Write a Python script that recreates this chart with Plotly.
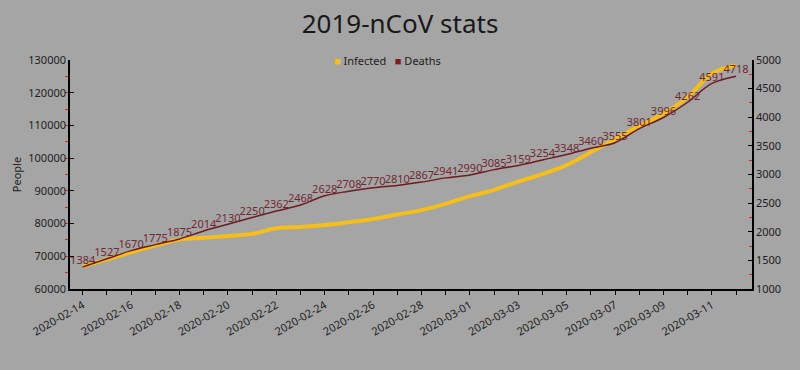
import plotly.graph_objects as go

dates = [
    "2020-02-14", "2020-02-15", "2020-02-16", "2020-02-17", "2020-02-18", "2020-02-19",
    "2020-02-20", "2020-02-21", "2020-02-22", "2020-02-23", "2020-02-24", "2020-02-25",
    "2020-02-26", "2020-02-27", "2020-02-28", "2020-02-29", "2020-03-01", "2020-03-02",
    "2020-03-03", "2020-03-04", "2020-03-05", "2020-03-06", "2020-03-07", "2020-03-08",
    "2020-03-09", "2020-03-10", "2020-03-11", "2020-03-12",
]
infected = [
    66887, 69032, 71226, 73260, 75138, 75641, 76199, 76843, 78599, 78985, 79570, 80415,
    81397, 82756, 84124, 86013, 88371, 90309, 92844, 95124, 97886, 101801, 105847, 109821,
    113590, 118620, 125875, 128352,
]
deaths = [
    1384, 1527, 1670, 1775, 1875, 2014, 2130, 2250, 2362, 2468, 2628, 2708,
    2770, 2810, 2867, 2941, 2990, 3085, 3159, 3254, 3348, 3460, 3555, 3801,
    3996, 4262, 4591, 4718,
]
left_ticks = [60000, 70000, 80000, 90000, 100000, 110000, 120000, 130000]
right_ticks = [1000, 1500, 2000, 2500, 3000, 3500, 4000, 4500, 5000]
series_names = ["Infected", "Deaths"]

BG = "rgb(165,165,165)"
YEL = "rgb(245,190,25)"
RED = "rgb(110,28,32)"
TXT = "rgb(30,30,30)"
FONT = "Noto Sans"

fig = go.Figure()
fig.add_trace(go.Scatter(
    x=dates, y=infected, name=series_names[0], mode="lines",
    line=dict(color=YEL, width=4, shape="spline"), showlegend=False, yaxis="y"))
fig.add_trace(go.Scatter(
    x=dates, y=deaths, name=series_names[1], mode="lines+text", text=[str(v) for v in deaths],
    textposition="top center", textfont=dict(color="rgb(112,40,52)", size=11, family=FONT),
    line=dict(color=RED, width=1.5, shape="spline"), showlegend=False, yaxis="y2"))

# compact legend (square swatch + label)
legend_text = (
    f"<span style='color:{YEL}'>■</span> {series_names[0]}&nbsp;&nbsp;&nbsp;"
    f"<span style='color:rgb(130,25,30)'>■</span> {series_names[1]}"
)
fig.add_annotation(text=legend_text, xref="paper", yref="paper", x=0.465, y=1.0,
                   xanchor="center", yanchor="middle", showarrow=False,
                   font=dict(size=11, color=TXT, family=FONT))

fig.update_layout(
    width=800, height=370,
    paper_bgcolor=BG, plot_bgcolor=BG,
    margin=dict(l=70, r=48, t=60, b=81, autoexpand=False),
    font=dict(family=FONT, color=TXT, size=11),
    title=dict(text="2019-nCoV stats", x=0.5, xanchor="center", y=0.935, yanchor="middle",
               font=dict(size=26, color="rgb(25,25,25)", family=FONT)),
    showlegend=False,
    xaxis=dict(
        type="date", range=["2020-02-13 11:24", "2020-03-12 15:50"],
        tick0="2020-02-14", dtick=2 * 86400000, tickformat="%Y-%m-%d", tickangle=-30,
        showgrid=False, zeroline=False, showline=True, linecolor="black", linewidth=1.5,
        ticks="outside", ticklen=4, tickcolor="black",
        minor=dict(dtick=86400000, tick0="2020-02-14", ticks="outside", ticklen=4, tickcolor="black"),
        tickfont=dict(size=11, color=TXT), automargin=False,
    ),
    yaxis=dict(
        range=[60000, 130000], tickvals=left_ticks, ticktext=[str(v) for v in left_ticks],
        showgrid=False, zeroline=False,
        showline=True, linecolor="black", linewidth=1.5, ticks="inside", ticklen=4,
        tickcolor="black",
        minor=dict(dtick=5000, ticks="outside", ticklen=3, tickcolor="rgb(220,40,40)"),
        title=dict(text="People", font=dict(size=11), standoff=4),
        tickfont=dict(size=11, color=TXT), automargin=False,
    ),
    yaxis2=dict(
        range=[1000, 5000], tickvals=right_ticks, ticktext=[str(v) for v in right_ticks],
        overlaying="y", side="right",
        showgrid=False, zeroline=False, showline=True, linecolor="black", linewidth=1.5,
        ticks="inside", ticklen=4, tickcolor="black",
        minor=dict(dtick=250, ticks="inside", ticklen=3, tickcolor="rgb(220,40,40)"),
        tickfont=dict(size=11, color=TXT), automargin=False,
    ),
)

fig.write_html("out.html", config={"displayModeBar": False},
               post_script="document.body.style.margin='0';")
